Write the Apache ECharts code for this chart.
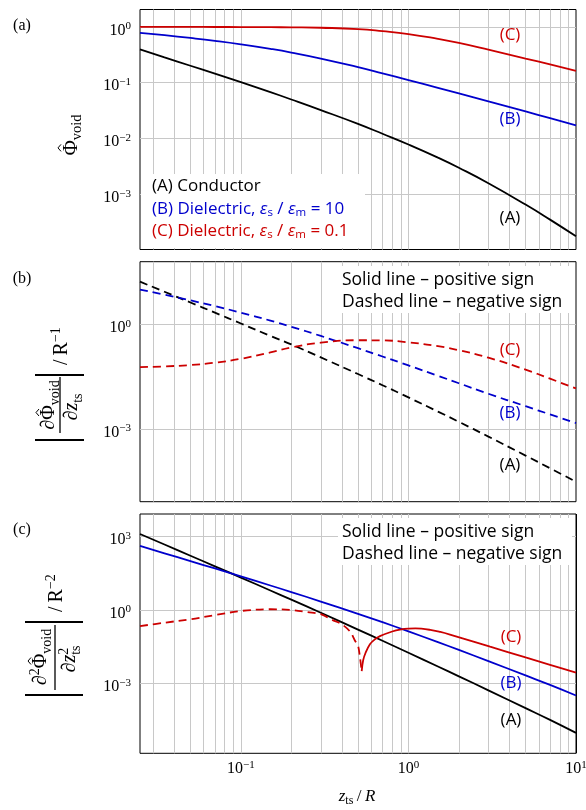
<!DOCTYPE html>
<html><head><meta charset="utf-8">
<script src="https://cdn.jsdelivr.net/npm/echarts@6/dist/echarts.min.js"></script>
<style>html,body{margin:0;padding:0;background:#fff}#c{width:586px;height:810px}</style>
</head><body><div id="c"></div>
<script>
// ---------- data ----------
const zts = [0.025,0.035,0.05,0.07,0.1,0.15,0.2,0.3,0.5,0.7,1,1.5,2,3,5,7,10];
const phiConductor = [0.394,0.284,0.201,0.145,0.102,0.0675,0.0499,0.0322,0.0182,0.0121,0.00776,0.00451,0.00297,0.00157,0.00065,0.000349,0.000175];
const phiDiel10 = [0.782,0.710,0.633,0.562,0.487,0.404,0.347,0.271,0.189,0.1464,0.111,0.0806,0.0640,0.0461,0.0304,0.0230,0.01713];
const phiDiel01 = [1.0,0.999,0.998,0.996,0.993,0.988,0.982,0.965,0.915,0.84,0.745,0.61,0.515,0.39,0.27,0.212,0.162];
const d1Conductor = [16.5,8.47,4.18,2.14,1.047,0.461,0.263,0.112,0.0374,0.0179,0.0080,0.00315,0.0016,0.000605,0.000173,0.0000752,0.0000309];
const d1Diel10 = [9.77,6.98,4.80,3.29,2.14,1.265,0.845,0.460,0.205,0.119,0.0659,0.0333,0.0204,0.0102,0.00449,0.00262,0.00148];
const d1Diel01 = [0.0589,0.0618,0.0678,0.0791,0.1023,0.155,0.216,0.295,0.347,0.343,0.302,0.234,0.180,0.110,0.0501,0.0275,0.01445];
const d2Conductor = [1288,477.5,166.7,61.4,21.2,6.28,2.65,0.769,0.158,0.0551,0.0178,0.00488,0.00193,0.000516,0.0000966,0.0000318,0.00000933];
const d2Diel10 = [416.9,209.4,100.5,50.1,23.8,10.07,5.42,2.22,0.697,0.316,0.133,0.0484,0.0232,0.00809,0.0021,0.000859,0.000316];
const ztsNeg = [0.025,0.035,0.05,0.07,0.1,0.15,0.2,0.25,0.3,0.35,0.4,0.45,0.48,0.5,0.513,0.526];
const d2Diel01Neg = [0.219,0.302,0.417,0.617,0.912,1.072,1.0,0.813,0.676,0.398,0.263,0.126,0.055,0.0347,0.0123,0.00316];
const ztsPos = [0.526,0.537,0.555,0.589,0.631,0.676,0.8,0.89,1.0,1.1,1.35,1.55,1.77,2.5,3.07,5,7,10];
const d2Diel01Pos = [0.00316,0.00891,0.0178,0.0398,0.0631,0.0851,0.1318,0.1585,0.1738,0.1758,0.1538,0.1259,0.0984,0.0484,0.0315,0.0114,0.0057,0.00274];

const xGridVals = [0.03,0.04,0.05,0.06,0.07,0.08,0.09,0.1,0.2,0.3,0.4,0.5,0.6,0.7,0.8,0.9,1,2,3,4,5,6,7,8,9];
const xTickLabels = [0.1, 1, 10];
const yTicksA = [1, 0.1, 0.01, 0.001];
const yTicksB = [1, 0.001];
const yTicksC = [1000, 1, 0.001];

// ---------- style ----------
const serif = "'Liberation Serif','DejaVu Serif',serif";
const sans = "'Open Sans','Noto Sans',sans-serif";
const BLACK = '#000000', BLUE = '#0000cc', RED = '#cc0000';
const FS = 17;

const panels = [
  {top: 9.5, height: 240, ymin: Math.pow(10,-3.993), ymax: Math.pow(10,0.312), yTicks: yTicksA},
  {top: 261.7, height: 240, ymin: Math.pow(10,-5.082), ymax: Math.pow(10,1.789), yTicks: yTicksB},
  {top: 514, height: 239.3, ymin: Math.pow(10,-5.865), ymax: Math.pow(10,3.929), yTicks: yTicksC}
];

const tickRich = {
  n: {fontFamily: serif, fontSize: 16, lineHeight: 16, padding: [7,0,0,0], color: '#000'},
  p: {fontFamily: serif, fontSize: 11, lineHeight: 11, padding: [2,0,0,0], verticalAlign: 'top', color: '#000'}
};
function tickText(v) {
  const e = Math.round(Math.log10(v));
  return '{n|10}{p|' + (e < 0 ? '\u2212' + (-e) : String(e)) + '}';
}

function gridMarkLine(p, idx) {
  const data = [];
  xGridVals.forEach(v => {
    const lab = idx === 2 && xTickLabels.indexOf(v) >= 0;
    data.push({xAxis: v, label: lab ? {show: true, formatter: tickText(v), distance: 4} : {show: false}});
  });
  if (idx === 2) data.push({xAxis: 10, lineStyle: {color: '#000'}, label: {show: true, formatter: tickText(10), distance: 4}});
  p.yTicks.forEach(v => data.push({yAxis: v, label: {show: true, formatter: tickText(v), distance: 9}}));
  return {
    silent: true, symbol: ['none','none'], z: 1, animation: false, precision: 8,
    lineStyle: {color: '#c8c8c8', width: 1, type: 'solid'},
    label: {show: false, position: 'start', rich: tickRich},
    emphasis: {disabled: true},
    data
  };
}

function curve(xs, ys, color, dashed, i, sm) {
  return {
    type: 'line', xAxisIndex: i, yAxisIndex: i,
    data: xs.map((x, k) => [x, ys[k]]),
    showSymbol: false, symbol: 'none', smooth: sm == null ? 0.5 : sm,
    lineStyle: {color: color, width: 1.8, type: dashed ? [8,5] : 'solid'},
    z: 3, silent: true, animation: false
  };
}

const grids = [], xAxes = [], yAxes = [], series = [];
panels.forEach((p, i) => {
  grids.push({left: 140, top: p.top, width: 436, height: p.height, show: true, borderColor: '#000', borderWidth: 1, backgroundColor: 'transparent'});
  xAxes.push({type: 'log', gridIndex: i, min: 0.025, max: 10, axisLabel: {show: false}, axisTick: {show: false}, axisLine: {show: false}, splitLine: {show: false}});
  yAxes.push({type: 'log', gridIndex: i, min: p.ymin, max: p.ymax, axisLabel: {show: false}, axisTick: {show: false}, axisLine: {show: false}, splitLine: {show: false}});
  series.push({type: 'line', xAxisIndex: i, yAxisIndex: i, data: [], markLine: gridMarkLine(p, i)});
});
series.push(curve(zts, phiConductor, BLACK, false, 0));
series.push(curve(zts, phiDiel10, BLUE, false, 0));
series.push(curve(zts, phiDiel01, RED, false, 0));
series.push(curve(zts, d1Conductor, BLACK, true, 1));
series.push(curve(zts, d1Diel10, BLUE, true, 1));
series.push(curve(zts, d1Diel01, RED, true, 1));
series.push(curve(zts, d2Conductor, BLACK, false, 2));
series.push(curve(zts, d2Diel10, BLUE, false, 2));
series.push(curve(ztsNeg, d2Diel01Neg, RED, true, 2, 0.35));
series.push(curve(ztsPos, d2Diel01Pos, RED, false, 2, 0.35));

// ---------- text helpers ----------
const mctx = document.createElement('canvas').getContext('2d');
function tw(t, size, it) { mctx.font = (it ? 'italic ' : '') + size + 'px ' + serif; return mctx.measureText(t).width; }

function row(pieces, x, y, align) {
  let total = 0;
  pieces.forEach(p => {
    p.w = p.stack ? Math.max.apply(null, p.stack.map(q => tw(q.t, p.s, false))) : tw(p.t, p.s, p.it);
    total += p.w;
  });
  let cx = align === 'left' ? x : x - total / 2;
  const els = [];
  pieces.forEach(p => {
    const items = p.stack ? p.stack : [p];
    items.forEach(q => {
      els.push({type: 'text', x: cx, y: y + (q.dy || 0), silent: true,
        style: {text: q.t, fontFamily: serif, fontSize: p.s, fontStyle: p.it ? 'italic' : 'normal', fill: '#000', align: 'left', verticalAlign: 'middle'}});
    });
    if (p.hat) {
      const hx = cx + p.w / 2;
      els.push({type: 'polyline', silent: true, shape: {points: [[hx - 3.5, y - 10], [hx, y - 13], [hx + 3.5, y - 10]]}, style: {stroke: '#000', lineWidth: 1, fill: null}});
    }
    cx += p.w;
  });
  return els;
}
function txt(x, y, text, opt) {
  return {type: 'text', x: x, y: y, z: 11, silent: true,
    style: Object.assign({text: text, fontFamily: sans, fontSize: FS, fill: '#000', align: 'center', verticalAlign: 'middle'}, opt || {})};
}
function legendRich(color) {
  return {
    t: {fontFamily: sans, fontSize: FS, fill: color, lineHeight: 20},
    e: {fontFamily: sans, fontSize: FS, fontStyle: 'italic', fill: color, lineHeight: 20},
    u: {fontFamily: sans, fontSize: 11.5, fill: color, lineHeight: 11, verticalAlign: 'bottom', padding: [6,0,0,0]}
  };
}
function ln(x1, y1, x2, y2, w) {
  return {type: 'line', silent: true, shape: {x1: x1, y1: y1, x2: x2, y2: y2}, style: {stroke: '#000', lineWidth: w}};
}
const SUB = 6, SUP = -6;

const graphic = [
  txt(22, 25.5, '(a)', {fontFamily: serif, fontSize: 16}),
  txt(22, 279, '(b)', {fontFamily: serif, fontSize: 16}),
  txt(22, 530, '(c)', {fontFamily: serif, fontSize: 16}),
  // legend panel (a)
  {type: 'rect', z: 10, silent: true, shape: {x: 141, y: 174, width: 224, height: 74}, style: {fill: '#fff'}},
  txt(152, 186, '{t|(A) Conductor}', {align: 'left', rich: legendRich(BLACK)}),
  txt(152, 209, '{t|(B) Dielectric, }{e|\u03b5}{u|s}{t| / }{e|\u03b5}{u|m}{t| = 10}', {align: 'left', rich: legendRich(BLUE)}),
  txt(152, 231, '{t|(C) Dielectric, }{e|\u03b5}{u|s}{t| / }{e|\u03b5}{u|m}{t| = 0.1}', {align: 'left', rich: legendRich(RED)}),
  // curve labels
  txt(510, 35, '(C)', {fill: RED}), txt(510, 119, '(B)', {fill: BLUE}), txt(510, 218, '(A)', {fill: BLACK}),
  txt(510, 350, '(C)', {fill: RED}), txt(510, 413, '(B)', {fill: BLUE}), txt(510, 465, '(A)', {fill: BLACK}),
  txt(511, 637, '(C)', {fill: RED}), txt(511, 683, '(B)', {fill: BLUE}), txt(511, 720, '(A)', {fill: BLACK}),
  // sign notes
  {type: 'rect', z: 10, silent: true, shape: {x: 338, y: 266, width: 234, height: 47}, style: {fill: '#fff'}},
  txt(342, 280, 'Solid line \u2013 positive sign', {align: 'left', fontSize: 17.5}),
  txt(342, 302, 'Dashed line \u2013 negative sign', {align: 'left', fontSize: 17.5}),
  {type: 'rect', z: 10, silent: true, shape: {x: 338, y: 518, width: 234, height: 47}, style: {fill: '#fff'}},
  txt(342, 532, 'Solid line \u2013 positive sign', {align: 'left', fontSize: 17.5}),
  txt(342, 554, 'Dashed line \u2013 negative sign', {align: 'left', fontSize: 17.5}),
  // x axis title
  {type: 'group', x: 0, y: 0, children: row([
    {t: 'z', s: 17, it: true}, {t: 'ts', s: 12, dy: 4}, {t: '\u2009/\u2009', s: 17}, {t: 'R', s: 17, it: true}
  ], 357, 797)},
  // y title (a)
  {type: 'group', x: 71, y: 135, rotation: Math.PI / 2, children: row([
    {t: '\u03a6', s: 21, hat: true}, {t: 'void', s: 14.5, dy: SUB}
  ], 0, 0)},
  // y title (b)
  {type: 'group', x: 60, y: 405, rotation: Math.PI / 2, children: [
    ln(-28, 0, 28, 0, 1.3),
    ln(30, -25, 30, 24, 2),
    ln(-35, -25, -35, 24, 2)
  ].concat(
    row([{t: '\u2202', s: 20}, {t: '\u03a6', s: 20, hat: true}, {t: 'void', s: 14, dy: SUB}], 0, -11),
    row([{t: '\u2202', s: 20}, {t: 'z', s: 20, it: true}, {t: 'ts', s: 14, dy: SUB}], -2, 12),
    row([{t: '/\u2009', s: 20}, {t: 'R', s: 20}, {t: '\u22121', s: 14, dy: SUP}], 40, 2, 'left')
  )},
  // y title (c)
  {type: 'group', x: 55, y: 657, rotation: Math.PI / 2, children: [
    ln(-33, 0, 32, 0, 1.3),
    ln(35, -30, 35, 28, 2),
    ln(-38, -30, -38, 28, 2)
  ].concat(
    row([{t: '\u2202', s: 20}, {t: '2', s: 14, dy: SUP}, {t: '\u03a6', s: 20, hat: true}, {t: 'void', s: 14, dy: SUB}], 0, -14),
    row([{t: '\u2202', s: 20}, {t: 'z', s: 20, it: true}, {s: 14, stack: [{t: '2', dy: SUP}, {t: 'ts', dy: SUB}]}], -2, 15),
    row([{t: '/\u2009', s: 20}, {t: 'R', s: 20}, {t: '\u22122', s: 14, dy: SUP}], 45, 2, 'left')
  )}
];

const chart = echarts.init(document.getElementById('c'));
chart.setOption({
  animation: false,
  backgroundColor: '#fff',
  grid: grids, xAxis: xAxes, yAxis: yAxes, series: series, graphic: graphic
});
</script></body></html>
